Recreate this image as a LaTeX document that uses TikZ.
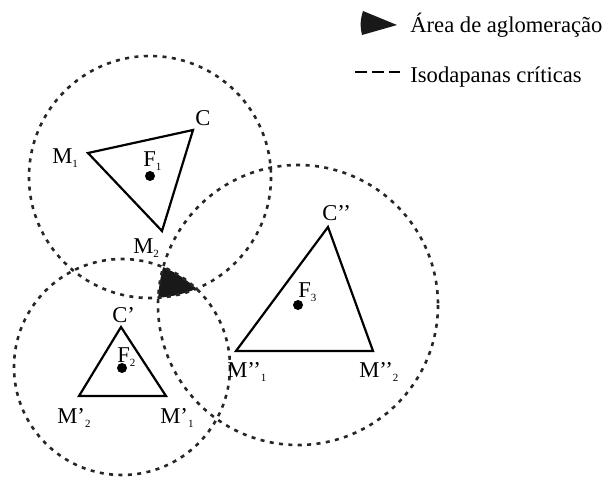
\documentclass[tikz,border=0pt]{standalone}
\usepackage{fontspec}
\setmainfont{Liberation Serif}
\usepackage{tikz}
\usetikzlibrary{positioning,calc}
\newcommand{\idx}[1]{\raisebox{-2pt}{\fontsize{5.5}{6}\selectfont #1}}
\tikzset{
  isod/.style={draw=black!85,line width=1.3pt,dash pattern=on 2pt off 2.7pt},
  tri/.style={draw=black,line width=1.1pt,line join=miter},
  focus/.style={circle,fill=black,inner sep=0pt,minimum size=5pt},
  lbl/.style={inner sep=0pt,anchor=base west,font=\fontsize{11.3}{13}\selectfont},
}
\begin{document}
\begin{tikzpicture}[x=0.5pt,y=-0.5pt]
\useasboundingbox (0,0) rectangle (616,477);
\coordinate (o1) at (150,177);
\coordinate (o2) at (122,367);
\coordinate (o3) at (298,305);
\begin{scope}
\clip (o1) circle (121);
\clip (o2) circle (108);
\fill[black!90] (o3) circle (140);
\end{scope}
\draw[isod] (o1) circle (121);
\draw[isod] (o2) circle (108);
\draw[isod] (o3) circle (140);
\coordinate (m1) at (88,153);
\coordinate (c) at (193,130);
\coordinate (m2) at (162,231);
\coordinate (c') at (121,327);
\coordinate (m'2) at (79,396);
\coordinate (m'1) at (166,396);
\coordinate (c'') at (328,227);
\coordinate (m''1) at (236,351);
\coordinate (m''2) at (373,351);
\draw[tri] (m1) -- (c) -- (m2) -- cycle;
\draw[tri] (c') -- (m'1) -- (m'2) -- cycle;
\draw[tri] (c'') -- (m''2) -- (m''1) -- cycle;
\node[focus] (f1) at (150,176) {};
\node[focus] (f2) at (122,368) {};
\node[focus] (f3) at (298,305) {};
\node[lbl] (lm1) at (52,163) {M\idx{1}};
\node[lbl] (lc) at (195,125) {C};
\node[lbl] (lf1) at (143,166) {F\idx{1}};
\node[lbl] (lm2) at (133,253) {M\idx{2}};
\node[lbl] (lc') at (112,322) {C’};
\node[lbl] (lf2) at (117,362) {F\idx{2}};
\node[lbl] (lm'2) at (57,423) {M’\idx{2}};
\node[lbl] (lm'1) at (160,423) {M’\idx{1}};
\node[lbl] (lc'') at (322,220) {C’’};
\node[lbl] (lf3) at (298,297) {F\idx{3}};
\node[lbl] (lm''1) at (227,377) {M’’\idx{1}};
\node[lbl] (lm''2) at (359,377) {M’’\idx{2}};
\fill[black!90] (363,11) -- (397,25) -- (362,35) to[bend left=15] cycle;
\node[lbl] (key1) at (410,32) {Área de aglomeração};
\coordinate (d1) at (355,72);
\coordinate (d2) at (400,72);
\draw[line width=1.3pt,dash pattern=on 6pt off 2.5pt] (d1) -- (d2);
\node[lbl] (key2) at (410,82) {Isodapanas críticas};
\end{tikzpicture}
\end{document}
